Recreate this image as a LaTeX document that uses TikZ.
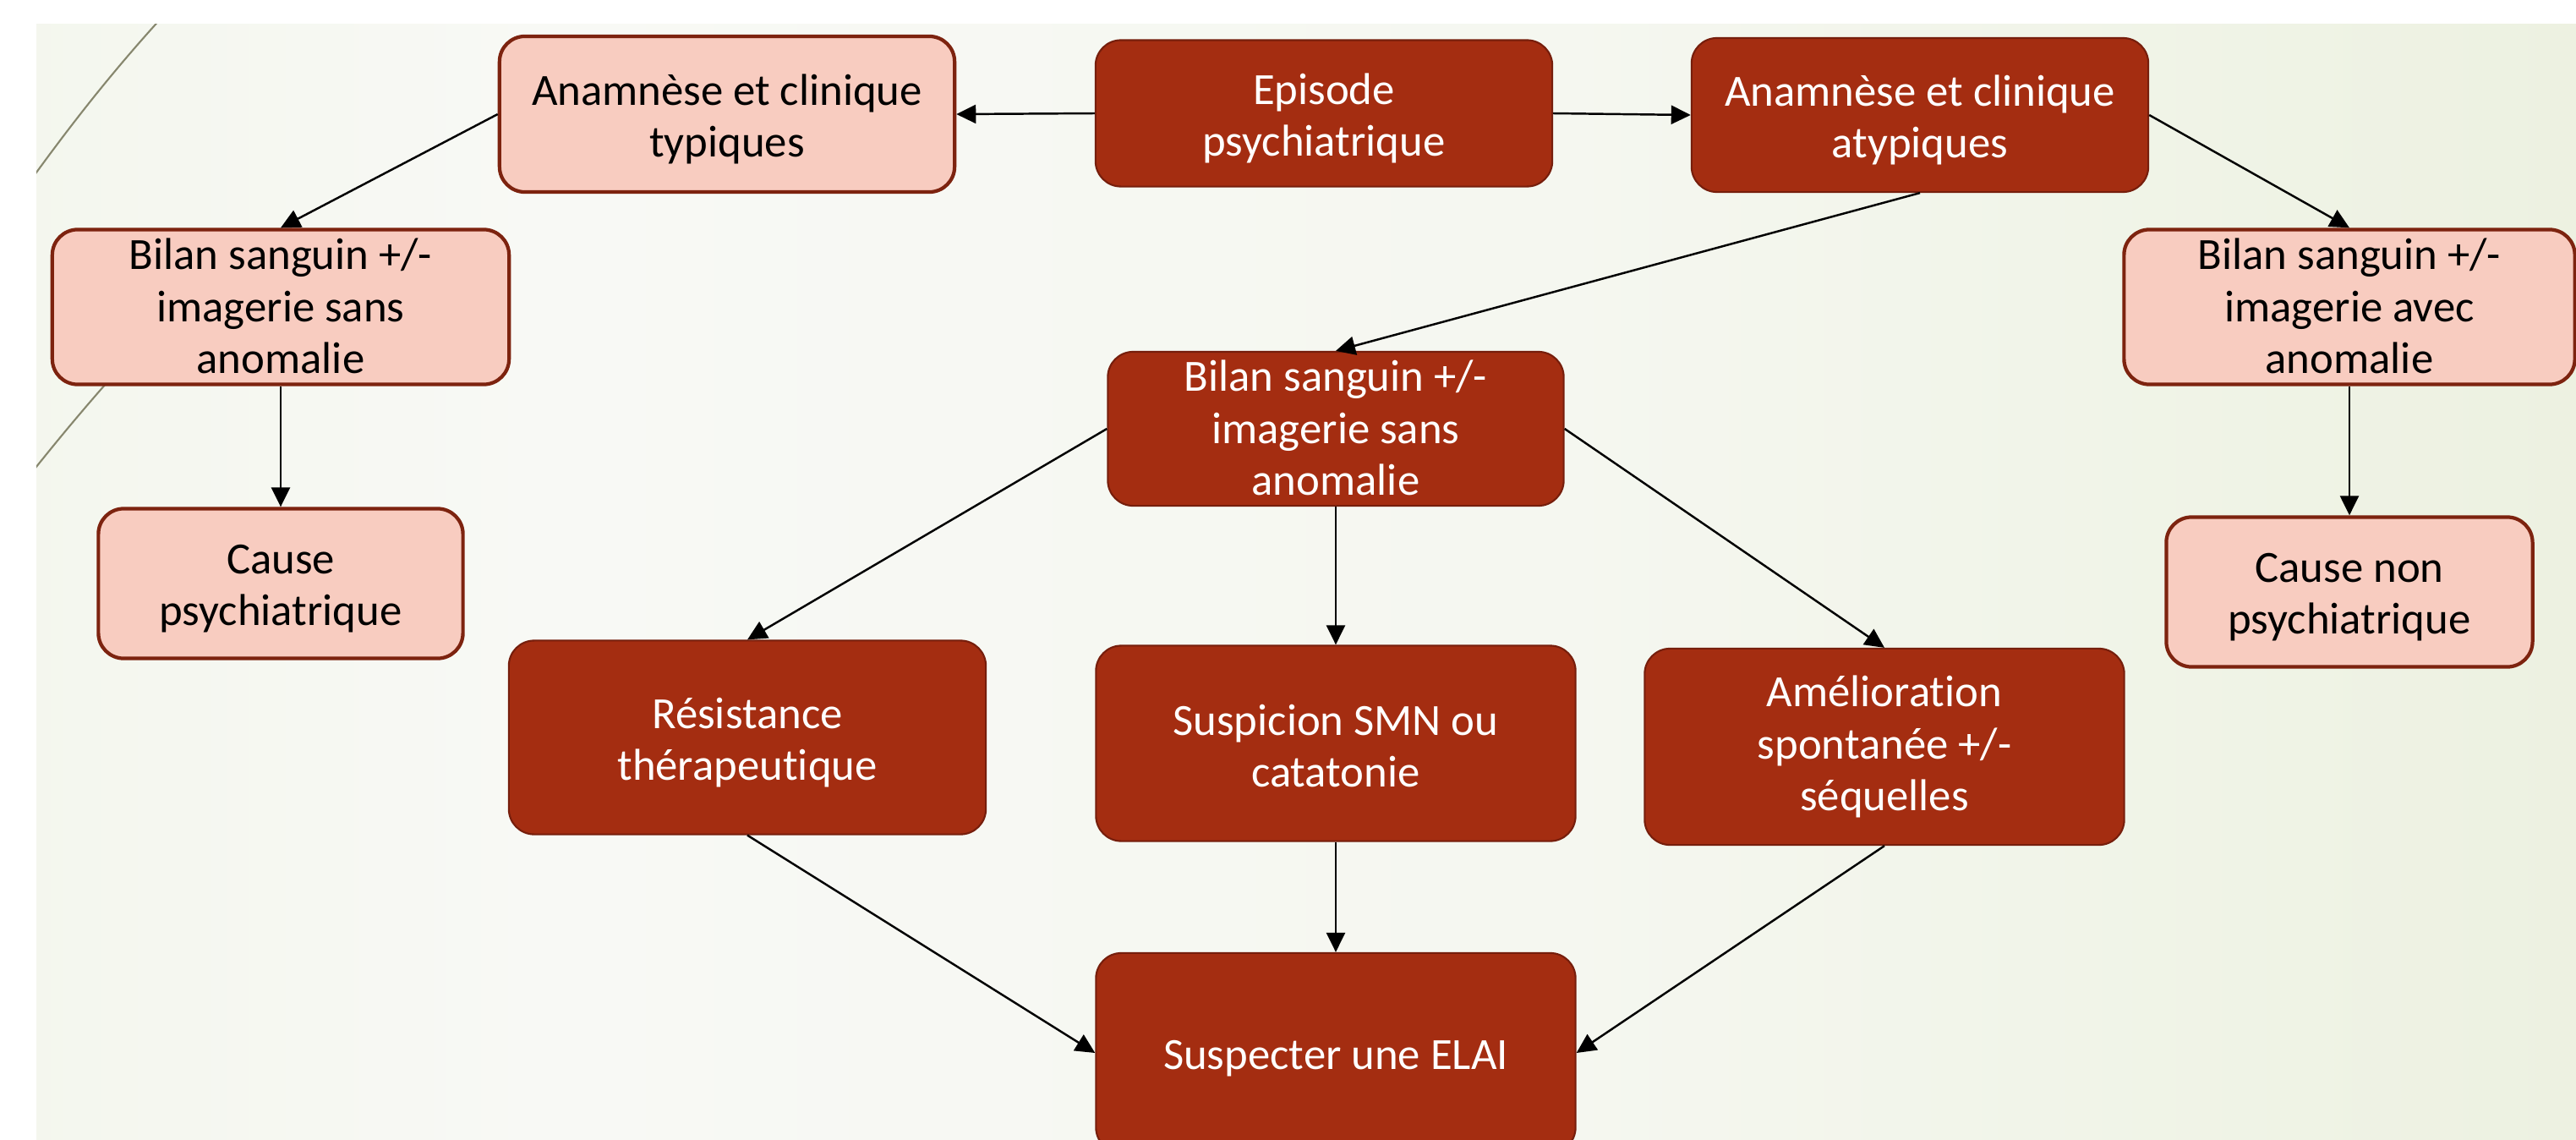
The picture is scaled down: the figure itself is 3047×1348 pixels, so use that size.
\documentclass[tikz,border=0pt]{standalone}
\usepackage{fontspec}
\setmainfont{Carlito}[Ligatures=NoCommon]
\usetikzlibrary{arrows.meta}
\definecolor{darkfill}{RGB}{164,45,17}
\definecolor{darkedge}{RGB}{118,30,12}
\definecolor{lightfill}{RGB}{248,204,192}
\definecolor{lightedge}{RGB}{125,35,15}
\definecolor{arcline}{RGB}{135,135,110}
\definecolor{bgL}{RGB}{234,240,221}
\definecolor{bgM}{RGB}{248,249,245}
\definecolor{bgMM}{RGB}{245,247,240}
\definecolor{bgR}{RGB}{226,234,206}
\pgfdeclarehorizontalshading{panelshade}{100bp}{color(0bp)=(bgL); color(35bp)=(bgM); color(55bp)=(bgMM); color(100bp)=(bgR)}
% [#1 text shift], #2 name, #3 position, #4 width, #5 height, #6 style, #7 text
\newcommand\flowbox[7][-1.8pt]{%
  \node[#6, minimum width=#4, minimum height=#5] (#2) at (#3) {};
  \node[#6text] (#2-t) at ([yshift=#1]#2.center) {#7};
}
\begin{document}
\begin{tikzpicture}[x=0.01cm,y=-0.01cm,
  box/.style={rounded corners=0.3cm, inner sep=0pt},
  txt/.style={align=center, inner sep=0pt,
    font=\fontsize{15pt}{17.4pt}\selectfont},
  darkbox/.style={box, fill=darkfill, draw=darkedge, line width=0.6pt},
  darkboxtext/.style={txt, text=white},
  lightbox/.style={box, fill=lightfill, draw=lightedge, line width=1.2pt},
  lightboxtext/.style={txt, text=black},
  arr/.style={-{Triangle[length=0.23cm,width=0.22cm]}, line width=0.7pt, black}]
\useasboundingbox (0,0) rectangle (3047,1348);
\fill[white] (0,0) rectangle (3047,1348);
\shade[shading=panelshade] (43,28) rectangle (3047,1348);
\begin{scope}
\clip (43,28) rectangle (3047,1348);
\draw[arcline, line width=0.6pt] (192,20) .. controls (130,88) and (82,150) .. (35,215);
\draw[arcline, line width=0.6pt] (262,310) .. controls (178,392) and (108,470) .. (35,562);
\end{scope}
% nodes
\flowbox{typ}{860,135}{5.38cm}{1.84cm}{lightbox}{Anamnèse et clinique\\typiques}
\flowbox{ep}{1566,134}{5.40cm}{1.73cm}{darkbox}{Episode\\psychiatrique}
\flowbox{atyp}{2271,136}{5.40cm}{1.82cm}{darkbox}{Anamnèse et clinique\\atypiques}
\flowbox[0.3pt]{bilL}{332,363}{5.40cm}{1.83cm}{lightbox}{Bilan sanguin +/-\\imagerie sans\\anomalie}
\flowbox[0.3pt]{bilR}{2779,363}{5.33cm}{1.83cm}{lightbox}{Bilan sanguin +/-\\imagerie avec\\anomalie}
\flowbox[0.3pt]{bilM}{1580,507}{5.39cm}{1.82cm}{darkbox}{Bilan sanguin +/-\\imagerie sans\\anomalie}
\flowbox{causeP}{332,690}{4.31cm}{1.77cm}{lightbox}{Cause\\psychiatrique}
\flowbox{causeNP}{2779,700}{4.33cm}{1.77cm}{lightbox}{Cause non\\psychiatrique}
\flowbox{res}{884,872}{5.64cm}{2.29cm}{darkbox}{Résistance\\thérapeutique}
\flowbox[-0.8pt]{susp}{1580,879}{5.67cm}{2.31cm}{darkbox}{Suspicion SMN ou\\catatonie}
\flowbox[0pt]{amel}{2229,883}{5.67cm}{2.32cm}{darkbox}{Amélioration\\spontanée +/-\\séquelles}
\flowbox{elai}{1580,1245}{5.67cm}{2.36cm}{darkbox}{Suspecter une ELAI}
% connectors
\draw[arr] (ep.west) -- (typ.east);
\draw[arr] (ep.east) -- (atyp.west);
\draw[arr] (typ.west) -- (bilL.north);
\draw[arr] (atyp.east) -- (bilR.north);
\draw[arr] (atyp.south) -- (bilM.north);
\draw[arr] (bilL.south) -- (causeP.north);
\draw[arr] (bilR.south) -- (causeNP.north);
\draw[arr] (bilM.west) -- (res.north);
\draw[arr] (bilM.south) -- (susp.north);
\draw[arr] (bilM.east) -- (amel.north);
\draw[arr] (res.south) -- (elai.west);
\draw[arr] (susp.south) -- (elai.north);
\draw[arr] (amel.south) -- (elai.east);
\end{tikzpicture}
\end{document}
